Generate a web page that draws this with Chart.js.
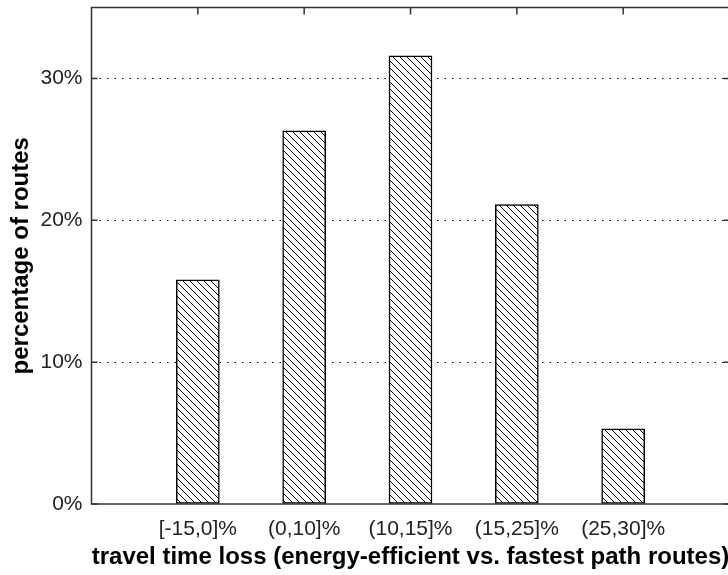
<!DOCTYPE html>
<html>
<head>
<meta charset="utf-8">
<script src="https://cdn.jsdelivr.net/npm/chart.js@4"></script>
<style>
  html, body { margin: 0; padding: 0; background: #fff; overflow: hidden; }
  #wrap { width: 740px; height: 575px; }
</style>
</head>
<body>
<div id="wrap"><canvas id="histChart" width="740" height="575"></canvas></div>
<script>
// 데이터
const categories = ['[-15,0]%', '(0,10]%', '(10,15]%', '(15,25]%', '(25,30]%'];
const positions = [1, 2, 3, 4, 5];
const shares = [15.8, 26.3, 31.6, 21.1, 5.3];
const yTicks = [0, 10, 20, 30];

// 빗금 패턴
function makeHatch() {
  const c = document.createElement('canvas');
  c.width = 7; c.height = 7;
  const g = c.getContext('2d');
  g.fillStyle = '#fff';
  g.fillRect(0, 0, 7, 7);
  g.strokeStyle = '#000';
  g.lineWidth = 1;
  g.beginPath();
  g.moveTo(-1, -1); g.lineTo(8, 8);
  g.moveTo(-8, -1); g.lineTo(1, 8);
  g.moveTo(6, -1); g.lineTo(15, 8);
  g.stroke();
  return g.createPattern(c, 'repeat');
}

// 테두리 + 안쪽 눈금
const framePlugin = {
  id: 'frame',
  afterDraw(chart) {
    const { ctx, chartArea: a, scales } = chart;
    ctx.save();
    ctx.strokeStyle = '#333';
    ctx.lineWidth = 1.5;
    ctx.beginPath();
    yTicks.forEach(v => {
      const y = scales.y.getPixelForValue(v);
      ctx.moveTo(a.left, y); ctx.lineTo(a.left + 6, y);
      ctx.moveTo(a.right, y); ctx.lineTo(a.right - 6, y);
    });
    positions.forEach(p => {
      const x = scales.x.getPixelForValue(p);
      ctx.moveTo(x, a.top); ctx.lineTo(x, a.top + 7);
    });
    ctx.stroke();
    ctx.strokeRect(a.left, a.top, a.right - a.left, a.bottom - a.top);
    ctx.restore();
  }
};

new Chart(document.getElementById('histChart'), {
  type: 'bar',
  data: {
    datasets: [{
      data: positions.map((p, i) => ({ x: p, y: shares[i] })),
      backgroundColor: makeHatch(),
      borderColor: '#000',
      borderWidth: 1.5,
      borderSkipped: false,
      barThickness: 43
    }]
  },
  options: {
    responsive: false,
    animation: false,
    events: [],
    layout: { padding: { top: 7.5, right: 10.5, left: 0, bottom: 0 } },
    plugins: { legend: { display: false }, tooltip: { enabled: false } },
    scales: {
      x: {
        type: 'linear',
        min: 0,
        max: 6,
        offset: false,
        afterBuildTicks: s => { s.ticks = positions.map(v => ({ value: v })); },
        afterFit: s => { s.height = 71; s.paddingLeft = 0; s.paddingRight = 0; },
        grid: { display: false, drawTicks: false },
        border: { display: false },
        ticks: {
          padding: 13,
          color: '#222',
          maxRotation: 0,
          autoSkip: false,
          font: { family: 'Liberation Sans', size: 21 },
          callback: v => categories[positions.indexOf(v)] || ''
        },
        title: {
          display: true,
          text: 'travel time loss (energy-efficient vs. fastest path routes)',
          color: '#000',
          font: { family: 'Liberation Sans', size: 24, weight: 'bold' },
          padding: { top: 0, bottom: 3.5 }
        }
      },
      y: {
        min: 0,
        max: 35,
        afterBuildTicks: s => { s.ticks = yTicks.map(v => ({ value: v })); },
        afterFit: s => { s.width = 91.5; s.paddingTop = 0; s.paddingBottom = 0; },
        grid: {
          drawTicks: false,
          color: c => c.tick && c.tick.value === 0 ? 'rgba(0,0,0,0)' : '#000',
          lineWidth: 1
        },
        border: { display: false, dash: [1.5, 6] },
        ticks: {
          padding: 9,
          color: '#222',
          font: { family: 'Liberation Sans', size: 21 },
          callback: v => v + '%'
        },
        title: {
          display: true,
          text: 'percentage of routes',
          color: '#000',
          font: { family: 'Liberation Sans', size: 24, weight: 'bold' },
          padding: { top: 6.5, bottom: 0 }
        }
      }
    }
  },
  plugins: [framePlugin]
});
</script>
</body>
</html>
